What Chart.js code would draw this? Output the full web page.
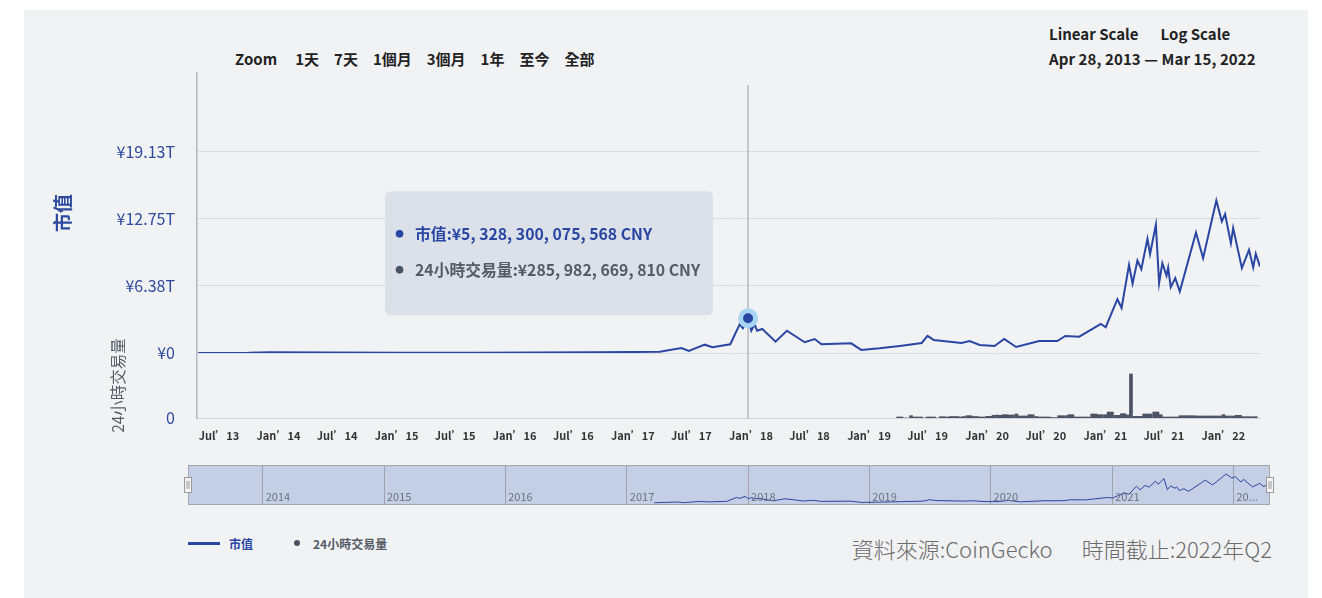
<!DOCTYPE html>
<html>
<head>
<meta charset="utf-8">
<script src="https://cdn.jsdelivr.net/npm/chart.js@4.4.1/dist/chart.umd.min.js"></script>
<style>
    body { margin: 0; background: #fff; width: 1322px; height: 598px; overflow: hidden;
           font-family: "Noto Sans CJK TC", "Noto Sans", sans-serif; }
    #card { position: absolute; left: 24px; top: 10px; width: 1284px; height: 588px; background: #f1f2f4; }
    .zoom { position: absolute; left: 211px; top: 39px; font-size: 15px; font-weight: 700; color: #222;
            white-space: nowrap; line-height: 20px; }
    .zoom span { margin-right: 15px; }
    .zoom span:first-child { margin-right: 18px; }
    .scale-sw { position: absolute; left: 1025px; top: 14px; font-size: 15px; font-weight: 700; color: #222;
                white-space: nowrap; line-height: 20px; }
    .scale-sw span + span { margin-left: 22px; }
    .range { position: absolute; left: 1025px; top: 39px; font-size: 15px; font-weight: 700; color: #222;
             white-space: nowrap; line-height: 20px; letter-spacing: 0.1px; }
    .box-main { position: absolute; left: 0; top: 0; width: 1284px; height: 440px; }
    .box-nav  { position: absolute; left: 156px; top: 450px; width: 1100px; height: 50px; }
    #legend { position: absolute; left: 164px; top: 524px; height: 18px; display: flex; align-items: center;
              font-size: 12px; font-weight: 700; white-space: nowrap; }
    #legend .item { display: flex; align-items: center; margin-right: 31px; }
    #legend .sw-line { width: 32px; height: 3px; margin-right: 9px; }
    #legend .sw-dot { width: 6px; height: 6px; border-radius: 50%; margin: 0 13px 0 10px; }
    .source { position: absolute; right: 36px; top: 524px; font-size: 22px; font-weight: 300; color: #6b6b6b;
              line-height: 28px; white-space: nowrap; }
    .source span + span { margin-left: 29px; }
</style>
</head>
<body>
<div id="card">
    <div class="zoom"><span>Zoom</span><span>1天</span><span>7天</span><span>1個月</span><span>3個月</span><span>1年</span><span>至今</span><span>全部</span></div>
    <div class="scale-sw"><span>Linear Scale</span><span>Log Scale</span></div>
    <div class="range">Apr 28, 2013 — Mar 15, 2022</div>
    <div class="box-main"><canvas id="cap-chart"></canvas></div>
    <div class="box-nav"><canvas id="nav-chart"></canvas></div>
    <div id="legend"></div>
    <div class="source"><span>資料來源:CoinGecko</span><span>時間截止:2022年Q2</span></div>
</div>
<script>
// ── 市值 (trillion CNY) ────────────────────────────────────────────────
const CAP_DATES = [
    "2013-04-28","2013-10-01","2013-12-05","2014-06-01","2015-01-15","2015-09-01","2016-03-01","2016-09-01",
    "2017-01-05","2017-03-25","2017-05-31","2017-06-23","2017-08-11","2017-09-04","2017-10-29","2017-11-27",
    "2017-12-07","2017-12-23","2018-01-02","2018-01-12","2018-01-20","2018-02-05","2018-03-18","2018-04-22",
    "2018-06-16","2018-07-17","2018-08-07","2018-11-07","2018-12-08","2019-02-03","2019-04-06","2019-06-13",
    "2019-07-01","2019-07-20","2019-10-14","2019-11-08","2019-12-09","2020-01-24","2020-02-23","2020-03-31",
    "2020-06-10","2020-08-05","2020-08-30","2020-10-12","2020-12-18","2021-01-02","2021-02-07","2021-02-20",
    "2021-03-15","2021-03-26","2021-04-10","2021-04-22","2021-05-11","2021-05-19","2021-06-06","2021-06-16",
    "2021-06-26","2021-07-09","2021-07-14","2021-07-22","2021-08-05","2021-08-19","2021-10-08","2021-10-30",
    "2021-12-10","2021-12-27","2022-01-06","2022-01-24","2022-01-31","2022-02-27","2022-03-21","2022-04-03",
    "2022-04-11","2022-04-24"
];
const CAP_VALUES = [
    0.01, 0.02, 0.08, 0.05, 0.03, 0.03, 0.05, 0.07,
    0.10, 0.12, 0.48, 0.20, 0.79, 0.54, 0.83, 2.73,
    2.35, 3.30, 2.12, 2.73, 2.12, 2.28, 1.08, 2.12,
    1.02, 1.33, 0.83, 0.92, 0.29, 0.45, 0.67, 0.95,
    1.62, 1.24, 0.95, 1.14, 0.76, 0.67, 1.33, 0.57,
    1.14, 1.14, 1.62, 1.55, 2.76, 2.45, 5.11, 4.28,
    8.37, 6.59, 8.78, 7.96, 10.85, 9.39, 12.18, 6.63,
    8.53, 7.35, 8.12, 6.25, 7.11, 5.83, 11.45, 9.01,
    14.49, 12.49, 13.20, 10.44, 11.87, 8.06, 9.80, 8.12,
    9.42, 8.21
];

// ── 24小時交易量 (billion CNY), sampled on day 1 / 11 / 21 of each month ──
const VOLUME_MONTHS = [
    "2019-04","2019-05","2019-06","2019-07","2019-08","2019-09","2019-10","2019-11","2019-12",
    "2020-01","2020-02","2020-03","2020-04","2020-05","2020-06","2020-07","2020-08","2020-09",
    "2020-10","2020-11","2020-12","2021-01","2021-02","2021-03","2021-04","2021-05","2021-06",
    "2021-07","2021-08","2021-09","2021-10","2021-11","2021-12","2022-01","2022-02","2022-03","2022-04"
];
const VOLUME_DAYS = ["01", "11", "21"];
const VOLUME_VALUES = [
    [10,10,0], [0,23,10], [10,10,0], [10,10,10], [0,13,13], [10,15,15], [15,10,15], [23,23,15], [15,10,10],
    [17,17,27], [30,27,33], [33,30,30], [40,20,20], [20,33,33], [15,10,10], [10,10,5], [5,23,23], [23,33,33],
    [10,10,10], [10,10,40], [40,33,33], [33,60,60], [27,27,43], [43,30,440], [17,17,17], [40,40,40], [60,60,33],
    [10,10,10], [10,10,23], [23,23,23], [23,20,20], [20,20,20], [20,20,20], [33,20,20], [20,27,27], [13,13,13], [13,13]
];

// ── Axes ────────────────────────────────────────────────────────────────
const CAP_TICKS     = [0, 6.375, 12.75, 19.125];
const X_TICK_DATES  = ["2013-07-01","2014-01-01","2014-07-01","2015-01-01","2015-07-01","2016-01-01","2016-07-01",
                       "2017-01-01","2017-07-01","2018-01-01","2018-07-01","2019-01-01","2019-07-01","2020-01-01",
                       "2020-07-01","2021-01-01","2021-07-01","2022-01-01"];
const X_TICK_LABELS = ["Jul’13","Jan’14","Jul’14","Jan’15","Jul’15","Jan’16","Jul’16","Jan’17","Jul’17",
                       "Jan’18","Jul’18","Jan’19","Jul’19","Jan’20","Jul’20","Jan’21","Jul’21","Jan’22"];
const NAV_YEARS     = ["2014","2015","2016","2017","2018","2019","2020","2021","2022"];

// hovered point + its readout
const TOOLTIP_DATE   = "2017-12-23";
const TOOLTIP_CAP    = 5328300075568;
const TOOLTIP_VOLUME = 285982669810;

const CAP_COLOR = "#2a46a3";
const VOL_COLOR = "#4b5263";
const day = s => Date.parse(s);

Chart.defaults.font.family = '"Noto Sans CJK TC", "Noto Sans", sans-serif';
Chart.defaults.animation = false;

const capPoints = CAP_DATES.map((d, i) => ({ x: day(d), y: CAP_VALUES[i] }));
const volPoints = VOLUME_MONTHS.flatMap((m, i) =>
    VOLUME_VALUES[i].map((v, j) => ({ x: day(`${m}-${VOLUME_DAYS[j]}`), y: v })));

const fmtCny = v => "¥" + v.toLocaleString("en-US").replace(/,/g, ", ") + " CNY";

Chart.Tooltip.positioners.capLeft = function (items) {
    const el = items[0].element;
    return { x: el.x, y: el.y - 65, xAlign: "right", yAlign: "center" };
};

const crosshair = {
    id: "crosshair",
    beforeDatasetsDraw(chart) {
        const act = chart.getActiveElements();
        if (!act.length) return;
        const { ctx, chartArea } = chart;
        const x = act[0].element.x;
        ctx.save();
        ctx.strokeStyle = "#b4b8c0";
        ctx.lineWidth = 1.5;
        ctx.beginPath();
        ctx.moveTo(x, chartArea.top + 12);
        ctx.lineTo(x, chartArea.bottom);
        ctx.stroke();
        ctx.restore();
    }
};

const capChart = new Chart(document.getElementById("cap-chart"), {
    type: "line",
    data: {
        datasets: [
            { label: "市值", data: capPoints, yAxisID: "y",
              borderColor: CAP_COLOR, backgroundColor: CAP_COLOR, borderWidth: 2, tension: 0,
              pointRadius: 0, pointHoverRadius: 7.5, pointHoverBorderWidth: 5,
              pointHoverBackgroundColor: CAP_COLOR, pointHoverBorderColor: "#a6d6f4" },
            { label: "24小時交易量", type: "bar", data: volPoints, yAxisID: "y1",
              backgroundColor: VOL_COLOR, hoverBackgroundColor: VOL_COLOR, barThickness: 3 },
        ],
    },
    options: {
        responsive: true, maintainAspectRatio: false,
        events: [],
        layout: { padding: { top: 63, right: 48, bottom: 2, left: 0 } },
        plugins: {
            legend: { display: false },
            tooltip: {
                position: "capLeft",
                backgroundColor: "#dce0e9", cornerRadius: 6, caretSize: 0, caretPadding: 35,
                padding: { top: 33, bottom: 36, left: 11, right: 13 },
                bodyFont: { size: 15.8, weight: "bold" }, bodySpacing: 17,
                displayColors: true, usePointStyle: true, boxWidth: 7, boxHeight: 7, boxPadding: 10,
                callbacks: {
                    title: () => "",
                    label: c => c.datasetIndex === 0 ? `市值:${fmtCny(TOOLTIP_CAP)}` : `24小時交易量:${fmtCny(TOOLTIP_VOLUME)}`,
                    labelColor: c => {
                        const col = c.datasetIndex === 0 ? CAP_COLOR : VOL_COLOR;
                        return { borderColor: col, backgroundColor: col };
                    },
                    labelPointStyle: () => ({ pointStyle: "circle", rotation: 0 }),
                    labelTextColor: c => c.datasetIndex === 0 ? CAP_COLOR : "#555b66",
                },
            },
        },
        scales: {
            x: {
                type: "linear", min: day("2013-04-24"), max: day("2022-04-24"), offset: false,
                grid: { display: false, drawTicks: false },
                border: { color: "#cfd2d8", width: 1 },
                afterBuildTicks: s => { s.ticks = X_TICK_DATES.map(d => ({ value: day(d) })); },
                afterFit: s => { s.height = 30; },
                ticks: {
                    autoSkip: false, maxRotation: 0, padding: 11, color: "#333",
                    font: { size: 11, weight: "bold" },
                    callback: v => X_TICK_LABELS[X_TICK_DATES.map(day).indexOf(v)],
                },
            },
            // left boxes of one stack are laid out in reverse order: volume first = bottom
            y1: {
                position: "left", stack: "left", stackWeight: 65,
                min: 0, max: 650,
                afterBuildTicks: s => { s.ticks = [{ value: 0 }]; },
                afterFit: s => { s.width = 173; },
                grid: { display: false, drawTicks: false },
                border: { color: "#b3b7bf", width: 1.5 },
                ticks: { padding: 22, color: "#2d4a9e", font: { size: 16 }, callback: () => "0" },
                title: { display: true, text: "24小時交易量", color: "#555b66",
                         font: { size: 15.5 }, padding: { top: 85, bottom: 0 } },
            },
            y: {
                position: "left", stack: "left", stackWeight: 280,
                min: 0, max: 26.6,
                afterBuildTicks: s => { s.ticks = CAP_TICKS.map(v => ({ value: v })); },
                afterFit: s => { s.width = 173; },
                grid: { color: "#d9dbdf", drawTicks: false },
                border: { color: "#b3b7bf", width: 1.5 },
                ticks: { padding: 22, color: "#2d4a9e", font: { size: 16 },
                         callback: v => v === 0 ? "¥0" : `¥${v.toFixed(2)}T` },
                title: { display: true, text: "市值", color: "#2d4a9e",
                         font: { size: 19, weight: "bold" }, padding: { top: 27, bottom: 0 } },
            },
        },
    },
    plugins: [crosshair],
});

// hover state as in the screenshot
const hoverIdx = CAP_DATES.indexOf(TOOLTIP_DATE);
capChart.setActiveElements([{ datasetIndex: 0, index: hoverIdx }]);
capChart.tooltip.setActiveElements(
    [{ datasetIndex: 0, index: hoverIdx }, { datasetIndex: 1, index: 0 }], { x: 0, y: 0 });
capChart.update();

// ── Legend (html) ───────────────────────────────────────────────────────
const legendEl = document.getElementById("legend");
legendEl.innerHTML = capChart.data.datasets.map((ds, i) => {
    const col = i === 0 ? CAP_COLOR : "#555b66";
    const sw  = i === 0 ? `<span class="sw-line" style="background:${ds.borderColor}"></span>`
                        : `<span class="sw-dot" style="background:${ds.backgroundColor}"></span>`;
    return `<div class="item">${sw}<span style="color:${col}">${ds.label}</span></div>`;
}).join("");

// ── Navigator ───────────────────────────────────────────────────────────
const NAV_LINE_FROM = day("2017-03-25");
const navBand = {
    id: "navBand",
    beforeDraw(chart) {
        const { ctx, chartArea: a } = chart;
        ctx.save();
        ctx.fillStyle = "#c4cee4";
        ctx.fillRect(a.left, a.top, a.width, a.height);
        ctx.restore();
    },
    afterDraw(chart) {
        const { ctx, chartArea: a } = chart;
        const xs = chart.scales.x;
        ctx.save();
        ctx.strokeStyle = "#a3a7ae";
        ctx.lineWidth = 1;
        ctx.strokeRect(a.left + 0.5, a.top + 0.5, a.width - 1, a.height - 1);
        ctx.font = '11px "Noto Sans CJK TC", sans-serif';
        ctx.fillStyle = "#6b7180";
        ctx.textBaseline = "bottom";
        NAV_YEARS.forEach(yr => {
            const px = xs.getPixelForValue(day(`${yr}-01-01`)) + 3;
            let txt = yr;
            if (px + ctx.measureText(txt).width > a.right - 12) txt = yr.slice(0, 2) + "...";
            ctx.fillText(txt, px, a.bottom - 3);
        });
        // handles
        [a.left, a.right].forEach(hx => {
            const cy = (a.top + a.bottom) / 2;
            ctx.fillStyle = "#f4f4f4";
            ctx.strokeStyle = "#9a9a9a";
            ctx.fillRect(hx - 4, cy - 8, 8, 16);
            ctx.strokeRect(hx - 3.5, cy - 7.5, 7, 15);
            ctx.beginPath();
            ctx.moveTo(hx - 1, cy - 4); ctx.lineTo(hx - 1, cy + 4);
            ctx.moveTo(hx + 1, cy - 4); ctx.lineTo(hx + 1, cy + 4);
            ctx.stroke();
        });
        ctx.restore();
    }
};

new Chart(document.getElementById("nav-chart"), {
    type: "line",
    data: {
        datasets: [{ data: capPoints.filter(p => p.x >= NAV_LINE_FROM),
                     borderColor: CAP_COLOR, borderWidth: 1, pointRadius: 0, tension: 0 }],
    },
    options: {
        responsive: true, maintainAspectRatio: false, events: [],
        layout: { padding: { top: 5, bottom: 5, left: 8, right: 10 } },
        plugins: { legend: { display: false }, tooltip: { enabled: false } },
        scales: {
            x: {
                type: "linear", min: day("2013-05-21"), max: day("2022-04-21"),
                afterBuildTicks: s => { s.ticks = NAV_YEARS.map(y => ({ value: day(`${y}-01-01`) })); },
                afterFit: s => { s.height = 0; },
                grid: { color: "#9ea3ab", drawTicks: false },
                border: { display: false },
                ticks: { display: false },
            },
            y: { display: false, min: -1, max: 19 },
        },
    },
    plugins: [navBand],
});
</script>
</body>
</html>
